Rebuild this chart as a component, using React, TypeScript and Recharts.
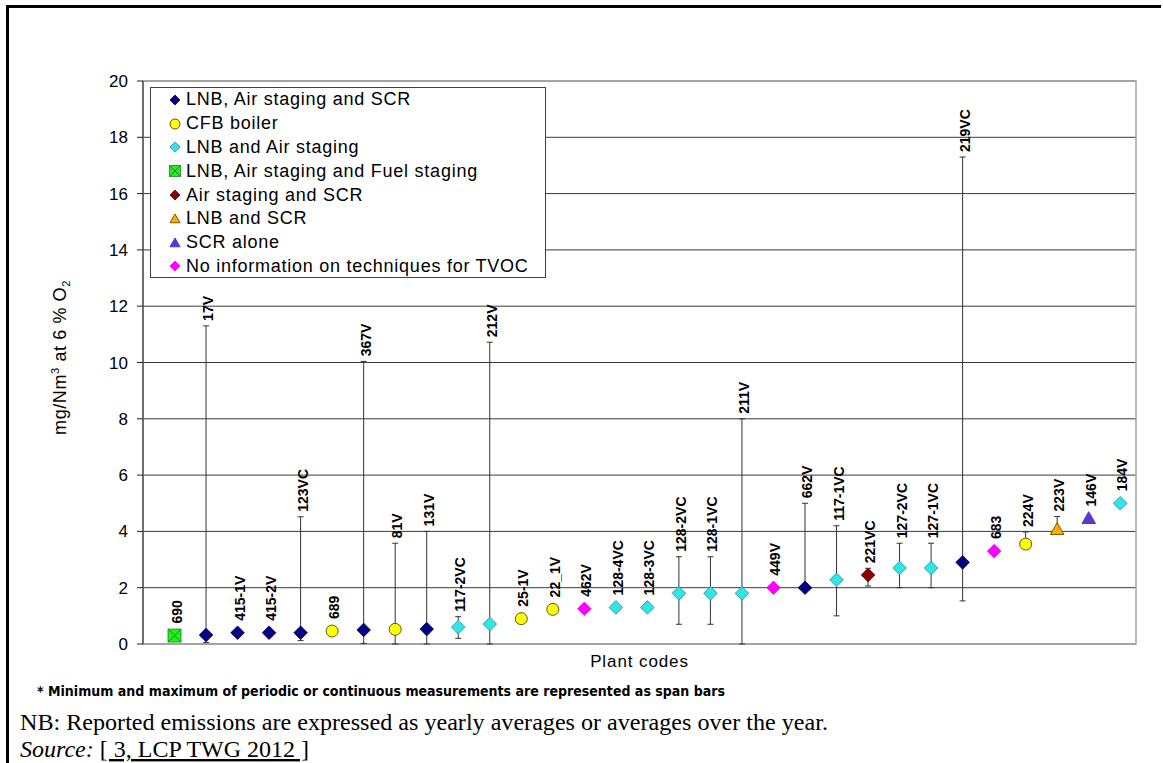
import React from 'react'
import { ScatterChart, Scatter, XAxis, YAxis, CartesianGrid, ErrorBar, ReferenceArea, Legend, Label } from 'recharts'

const plantCodes = [
  '690', '17V', '415-1V', '415-2V', '123VC', '689', '367V', '81V', '131V', '117-2VC', '212V',
  '25-1V', '22_1V', '462V', '128-4VC', '128-3VC', '128-2VC', '128-1VC', '211V', '449V', '662V',
  '117-1VC', '221VC', '127-2VC', '127-1VC', '219VC', '683', '224V', '223V', '146V', '184V',
]

const techniques = [
  'LNB, Air staging and SCR',
  'CFB boiler',
  'LNB and Air staging',
  'LNB, Air staging and Fuel staging',
  'Air staging and SCR',
  'LNB and SCR',
  'SCR alone',
  'No information on techniques for TVOC',
]

// index into techniques, one per plant
const plantTechnique = [3, 0, 0, 0, 0, 1, 0, 1, 0, 2, 2, 1, 1, 7, 2, 2, 2, 2, 2, 7, 0, 2, 4, 2, 2, 0, 7, 1, 5, 6, 2]

const averages = [
  0.3, 0.32, 0.4, 0.4, 0.4, 0.46, 0.5, 0.52, 0.53, 0.6, 0.71, 0.9, 1.23, 1.25, 1.3, 1.3,
  1.8, 1.8, 1.8, 2.0, 2.0, 2.28, 2.45, 2.7, 2.7, 2.9, 3.3, 3.55, 4.07, 4.46, 5.0,
]

const minimums = [
  null, 0.05, null, null, 0.12, null, 0.02, 0, 0, 0.2, 0, null, null, null, null, null,
  0.7, 0.7, 0, null, 2.0, 1.0, 2.06, 2.0, 2.0, 1.53, null, 3.55, 4.07, null, null,
]

const maximums = [
  null, 11.3, null, null, 4.52, null, 10.04, 3.58, 4.0, 0.97, 10.72, null, null, null, null, null,
  3.1, 3.1, 8.0, null, 5.0, 4.2, 2.69, 3.58, 3.58, 17.3, null, 3.98, 4.53, null, null,
]

const yTicks = [0, 2, 4, 6, 8, 10, 12, 14, 16, 18, 20]

const markerStyles = [
  { shape: 'diamond', fill: '#000080', stroke: '#000060' },
  { shape: 'circle', fill: '#FFFF00', stroke: '#5a5a10' },
  { shape: 'diamond', fill: '#33E3EA', stroke: '#23909a' },
  { shape: 'square', fill: '#22EE22', stroke: '#2b7a2b' },
  { shape: 'diamond', fill: '#880000', stroke: '#600000' },
  { shape: 'triangle', fill: '#FFAA00', stroke: '#7a5a00' },
  { shape: 'triangle', fill: '#6038C0', stroke: '#3a3aff' },
  { shape: 'diamond', fill: '#FF00FF', stroke: '#ff00ff' },
]

const points = plantCodes.map((code, i) => {
  const hi = maximums[i]
  const lo = minimums[i]
  return {
    x: i + 1,
    y: averages[i],
    code,
    tech: plantTechnique[i],
    err: hi == null ? undefined : [averages[i] - (lo ?? averages[i]), hi - averages[i]],
  }
})

const labelPoints = points.map((p, i) => ({
  x: p.x,
  y: maximums[i] ?? p.y,
  code: p.code,
  hasErr: maximums[i] != null,
}))

const ARIAL = "Arial, 'Liberation Sans', sans-serif"

function Marker({ kind, cx, cy, r }: { kind: number; cx: number; cy: number; r: number }) {
  const s = markerStyles[kind]
  if (s.shape === 'circle') {
    return <circle cx={cx} cy={cy} r={r - 0.5} fill={s.fill} stroke={s.stroke} strokeWidth={1} />
  }
  if (s.shape === 'square') {
    return (
      <g>
        <rect x={cx - r} y={cy - r} width={2 * r} height={2 * r} fill={s.fill} stroke={s.stroke} strokeWidth={0.8} />
        <path d={`M${cx - r},${cy - r}L${cx + r},${cy + r}M${cx + r},${cy - r}L${cx - r},${cy + r}`} stroke={s.stroke} strokeWidth={1} />
      </g>
    )
  }
  if (s.shape === 'triangle') {
    return (
      <polygon
        points={`${cx},${cy - r} ${cx + r},${cy + r * 0.75} ${cx - r},${cy + r * 0.75}`}
        fill={s.fill}
        stroke={s.stroke}
        strokeWidth={1}
      />
    )
  }
  return (
    <polygon
      points={`${cx},${cy - r} ${cx + r},${cy} ${cx},${cy + r} ${cx - r},${cy}`}
      fill={s.fill}
      stroke={s.stroke}
      strokeWidth={0.8}
    />
  )
}

const CodeLabel = (props: any) => {
  const { cx, cy, payload } = props
  const gap = payload.hasErr ? 5 : 12
  return (
    <text
      transform={`translate(${cx + 7},${cy - gap}) rotate(-90)`}
      fontFamily={ARIAL}
      fontSize={14}
      fontWeight="bold"
      fill="#000"
    >
      {payload.code}
    </text>
  )
}

const LegendBox = () => (
  <div
    style={{
      border: '1px solid #404040',
      background: '#fff',
      boxSizing: 'border-box',
      width: 396,
      height: 191,
      fontFamily: ARIAL,
      fontSize: 18,
      letterSpacing: 0.75,
      color: '#000',
    }}
  >
    {techniques.map((t, i) => (
      <div key={t} style={{ display: 'flex', alignItems: 'center', height: 23.8 }}>
        <svg width={14} height={14} style={{ marginLeft: 17, marginRight: 4, flex: 'none' }}>
          <Marker kind={i} cx={7} cy={7} r={i === 1 || i === 3 ? 5.5 : 5} />
        </svg>
        <span style={{ whiteSpace: 'nowrap' }}>{t}</span>
      </div>
    ))}
  </div>
)

const YLabel = (props: any) => {
  const vb = props.viewBox || { x: 83, y: 81, width: 60, height: 563 }
  const x = vb.x - 17
  const y = vb.y + vb.height / 2 - 5
  return (
    <text
      transform={`translate(${x},${y}) rotate(-90)`}
      textAnchor="middle"
      fontFamily={ARIAL}
      fontSize={18}
      letterSpacing={0.6}
      fill="#000"
    >
      mg/Nm<tspan fontSize={11} dy={-7}>3</tspan>
      <tspan dy={7}>{'  at 6 % O'}</tspan>
      <tspan fontSize={11} dy={4}>2</tspan>
    </text>
  )
}

export default function App() {
  return (
    <div style={{ position: 'absolute', left: 0, top: 0, width: 1163, height: 763, background: '#fff', overflow: 'hidden' }}>
      <div
        style={{
          position: 'absolute',
          left: 6,
          top: 5,
          width: 1152,
          height: 770,
          borderTop: '3px solid #000',
          borderLeft: '3px solid #000',
        }}
      />
      <div style={{ position: 'absolute', left: 0, top: 0 }}>
        <ScatterChart width={1163} height={700} margin={{ top: 81, right: 27, bottom: 16, left: 83 }}>
          <CartesianGrid vertical={false} stroke="#3a3a3a" />
          <ReferenceArea x1={0} x2={31.5} y1={0} y2={20} fill="none" stroke="#a6a6a6" strokeWidth={1.5} />
          <XAxis
            type="number"
            dataKey="x"
            domain={[0, 31.5]}
            height={40}
            tick={false}
            tickLine={false}
            axisLine={false}
          >
            <Label
              value="Plant codes"
              position="insideTop"
              offset={11}
              style={{ fontFamily: ARIAL, fontSize: 17, letterSpacing: 0.9, fill: '#000' }}
            />
          </XAxis>
          <YAxis
            type="number"
            dataKey="y"
            domain={[0, 20]}
            ticks={yTicks}
            width={60}
            tickSize={6}
            tickMargin={9}
            axisLine={{ stroke: '#222' }}
            tickLine={{ stroke: '#222' }}
            tick={{ fontFamily: ARIAL, fontSize: 17, fill: '#000' }}
          >
            <Label content={<YLabel />} />
          </YAxis>
          {techniques.map((t, k) => (
            <Scatter
              key={t}
              name={t}
              data={points.filter((p) => p.tech === k)}
              isAnimationActive={false}
              shape={(props: any) => <Marker kind={k} cx={props.cx} cy={props.cy} r={k === 1 || k === 3 ? 6.5 : 6.8} />}
            >
              <ErrorBar dataKey="err" direction="y" width={3} stroke="#333" strokeWidth={1} />
            </Scatter>
          ))}
          <Scatter
            name="labels"
            data={labelPoints}
            isAnimationActive={false}
            legendType="none"
            shape={CodeLabel}
          />
          <Legend
            layout="vertical"
            align="center"
            verticalAlign="middle"
            wrapperStyle={{ left: 150, top: 87, width: 396, height: 191 }}
            content={() => <LegendBox />}
          />
        </ScatterChart>
      </div>
      <svg width={1163} height={763} style={{ position: 'absolute', left: 0, top: 0, pointerEvents: 'none' }}>
        <text
          x={37}
          y={696}
          fontFamily="'DejaVu Sans Condensed', 'DejaVu Sans', sans-serif"
          fontWeight="bold"
          fontSize={14.5}
          textLength={688}
          lengthAdjust="spacingAndGlyphs"
          fill="#000"
        >
          * Minimum and maximum of periodic or continuous measurements are represented as span bars
        </text>
        <text
          x={20}
          y={730}
          fontFamily="'Liberation Serif', 'Times New Roman', serif"
          fontSize={24}
          textLength={808}
          lengthAdjust="spacingAndGlyphs"
          fill="#000"
        >
          NB: Reported emissions are expressed as yearly averages or averages over the year.
        </text>
        <text x={20} y={757} fontFamily="'Liberation Serif', 'Times New Roman', serif" fontSize={24} fill="#000">
          <tspan fontStyle="italic">Source:</tspan> <tspan textDecoration="underline">[ 3, LCP TWG 2012 ]</tspan>
        </text>
      </svg>
    </div>
  )
}
